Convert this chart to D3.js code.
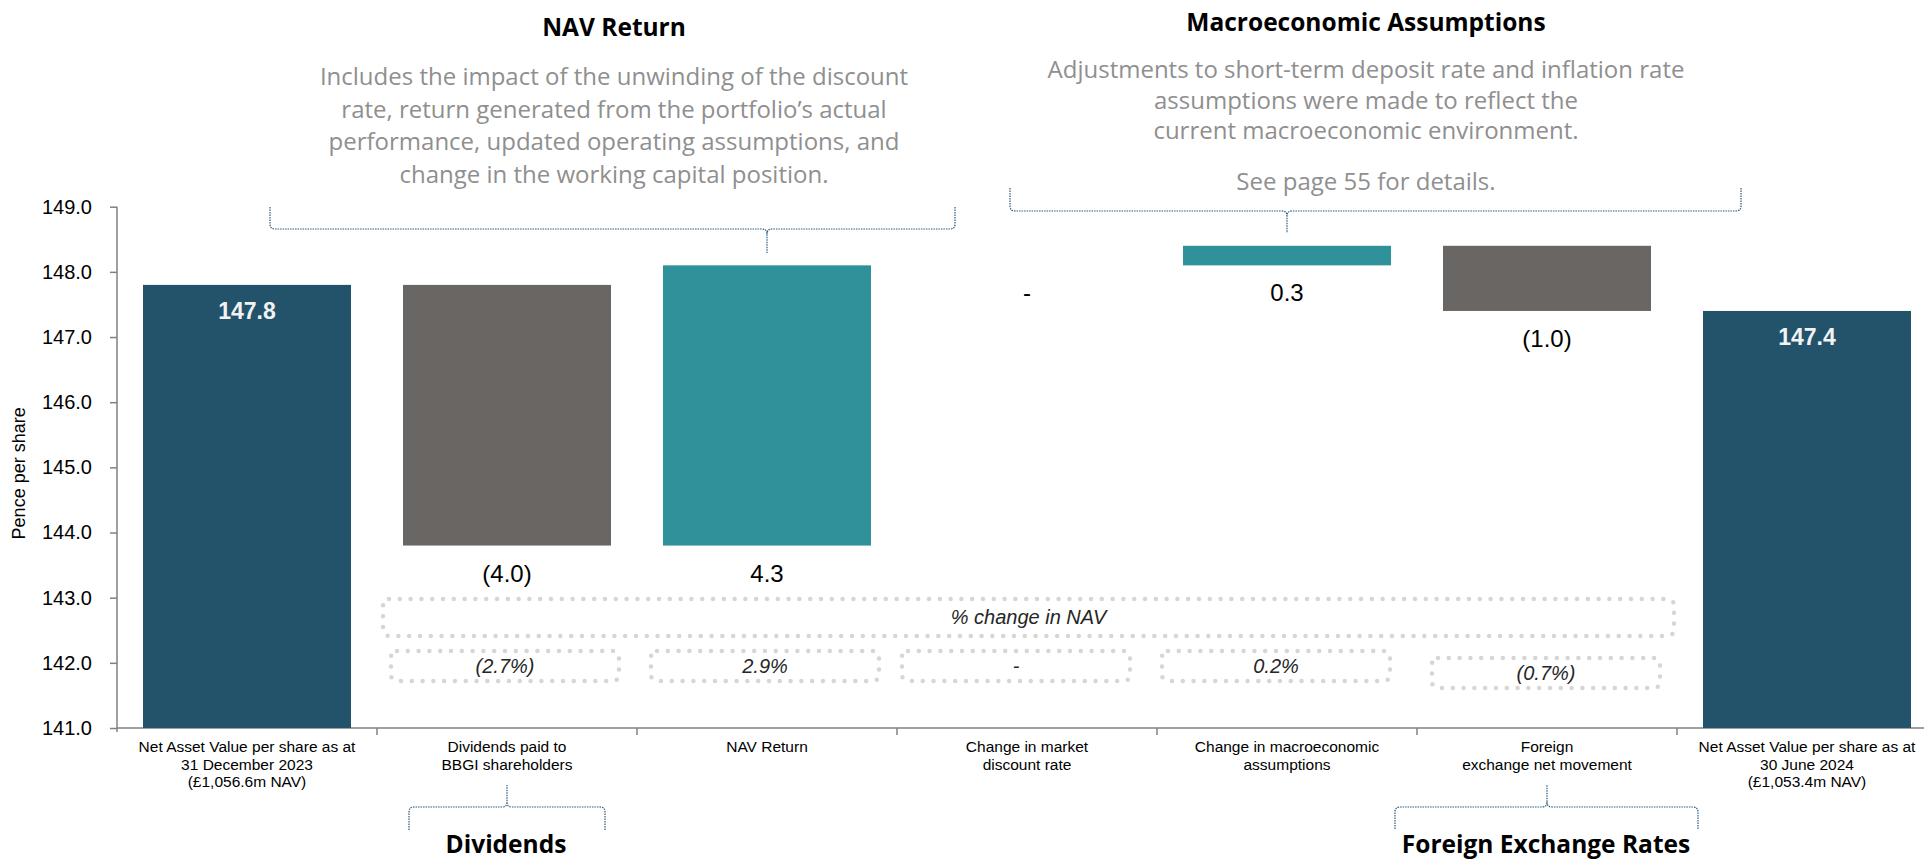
<!DOCTYPE html>
<html>
<head>
<meta charset="utf-8">
<script src="https://cdn.jsdelivr.net/npm/d3@7/dist/d3.min.js"></script>
<style>
  html, body { margin: 0; padding: 0; background: #fff; }
  svg { display: block; }
</style>
</head>
<body>
<svg id="chart" width="1924" height="860"></svg>
<script>
// ---- data ----
const categoryLines = [
  ["Net Asset Value per share as at", "31 December 2023", "(£1,056.6m NAV)"],
  ["Dividends paid to", "BBGI shareholders"],
  ["NAV Return"],
  ["Change in market", "discount rate"],
  ["Change in macroeconomic", "assumptions"],
  ["Foreign", "exchange net movement"],
  ["Net Asset Value per share as at", "30 June 2024", "(£1,053.4m NAV)"]
];
const stepValues = [147.8, -4.0, 4.3, 0.0, 0.3, -1.0, 147.4];
const stepKinds = ["total", "change", "change", "change", "change", "change", "total"];
const valueLabels = ["147.8", "(4.0)", "4.3", "-", "0.3", "(1.0)", "147.4"];
const pctChangeLabels = ["(2.7%)", "2.9%", "-", "0.2%", "(0.7%)"];
const pctHeader = "% change in NAV";
const yTickValues = [141, 142, 143, 144, 145, 146, 147, 148, 149];
const yTitle = "Pence per share";

const topNotes = [
  { title: "NAV Return", cat: 2,
    lines: ["Includes the impact of the unwinding of the discount",
            "rate, return generated from the portfolio\u2019s actual",
            "performance, updated operating assumptions, and",
            "change in the working capital position."] },
  { title: "Macroeconomic Assumptions", cat: 4,
    lines: ["Adjustments to short-term deposit rate and inflation rate",
            "assumptions were made to reflect the",
            "current macroeconomic environment."],
    footer: "See page 55 for details." }
];
const bottomNotes = [
  { title: "Dividends", cat: 1 },
  { title: "Foreign Exchange Rates", cat: 5 }
];

// ---- colours ----
const colTotal = "#23536B";
const colDown = "#6A6663";
const colUp = "#2F9199";
const colBracket = "#2B5A7E";
const colDots = "#D6D6D6";
const colNote = "#8F8F8F";

// ---- layout ----
const svg = d3.select("#chart");
const axisX = 117;
const x = d3.scaleBand()
  .domain(d3.range(categoryLines.length))
  .range([axisX, axisX + 1820])
  .paddingInner(0.2)
  .paddingOuter(0.1);
const y = d3.scaleLinear().domain([141, 149]).range([728, 206.7]);
const bw = x.bandwidth();
const cx = i => x(i) + bw / 2;

// waterfall extents
let running = 0;
const bars = stepValues.map((v, i) => {
  if (stepKinds[i] === "total") {
    running = v;
    return { i, lo: y.domain()[0], hi: v, kind: "total" };
  }
  const start = running;
  running = +(running + v).toFixed(4);
  return { i, lo: Math.min(start, running), hi: Math.max(start, running),
           kind: v < 0 ? "down" : "up", v };
});
const fill = k => k === "total" ? colTotal : (k === "down" ? colDown : colUp);

// ---- axes ----
const sans = "'Liberation Sans', Arial, sans-serif";
const yAxis = d3.axisLeft(y).tickValues(yTickValues).tickFormat(d3.format(".1f"))
  .tickSize(7).tickPadding(18);
const gy = svg.append("g").attr("transform", `translate(${axisX},0)`).call(yAxis);
gy.select(".domain").attr("d", `M0,${y(149)}V${y(141) + 4}`);
gy.selectAll("path, line").attr("stroke", "#808080").attr("stroke-width", 1.5);
gy.selectAll("text").attr("font-family", sans).attr("font-size", 20).attr("fill", "#000");

svg.append("text")
  .attr("transform", `translate(19,${(y(141) + y(149)) / 2 + 6}) rotate(-90)`)
  .attr("text-anchor", "middle").attr("dominant-baseline", "central")
  .attr("font-family", sans).attr("font-size", 18).attr("fill", "#000")
  .text(yTitle);

// x baseline with tick marks at the band boundaries
const gx = svg.append("g");
gx.append("line").attr("x1", axisX).attr("x2", 1924)
  .attr("y1", y(141)).attr("y2", y(141))
  .attr("stroke", "#808080").attr("stroke-width", 1.5);
gx.selectAll("line.tick").data(d3.range(1, categoryLines.length))
  .join("line").attr("class", "tick")
  .attr("x1", i => x(i) - x.step() * x.paddingInner() / 2)
  .attr("x2", i => x(i) - x.step() * x.paddingInner() / 2)
  .attr("y1", y(141)).attr("y2", y(141) + 7)
  .attr("stroke", "#808080").attr("stroke-width", 1.5);

const xl = svg.append("g").selectAll("text").data(categoryLines).join("text")
  .attr("text-anchor", "middle").attr("font-family", sans).attr("font-size", 15.5)
  .attr("fill", "#000");
xl.each(function (lines, i) {
  d3.select(this).selectAll("tspan").data(lines).join("tspan")
    .attr("x", cx(i)).attr("y", (d, k) => 752 + k * 17.5).text(d => d);
});

// ---- bars ----
svg.append("g").selectAll("rect").data(bars.filter(b => b.hi > b.lo)).join("rect")
  .attr("x", b => x(b.i)).attr("width", bw)
  .attr("y", b => y(b.hi)).attr("height", b => y(b.lo) - y(b.hi))
  .attr("fill", b => fill(b.kind));

// value labels
svg.append("g").selectAll("text").data(bars).join("text")
  .attr("x", b => cx(b.i))
  .attr("y", b => b.kind === "total" ? y(b.hi) + 34 : y(b.lo) + 36)
  .attr("text-anchor", "middle")
  .attr("font-family", sans)
  .attr("font-weight", b => b.kind === "total" ? "bold" : "normal")
  .attr("font-size", b => b.kind === "total" ? 23 : 24)
  .attr("fill", b => b.kind === "total" ? "#F2F2F2" : "#000")
  .text(b => valueLabels[b.i]);

// ---- % change boxes (dotted outlines) ----
function dottedBox(g, x0, y0, w, h) {
  g.append("rect").attr("x", x0).attr("y", y0).attr("width", w).attr("height", h)
    .attr("rx", 6).attr("fill", "none")
    .attr("stroke", colDots).attr("stroke-width", 4.5)
    .attr("stroke-linecap", "round").attr("stroke-dasharray", "0 10.8");
}
const boxes = svg.append("g");
dottedBox(boxes, 383, 599, 1291, 37);
boxes.append("text").attr("x", (383 + 1674) / 2).attr("y", 624)
  .attr("text-anchor", "middle").attr("font-family", sans).attr("font-style", "italic")
  .attr("font-size", 20).attr("fill", "#262626").text(pctHeader);

const smallShift = [-2, -2, -11, -11, -1];
const smallTop = [651, 651, 651, 651, 658];
pctChangeLabels.forEach((t, k) => {
  const c = cx(k + 1) + smallShift[k];
  dottedBox(boxes, c - 114, smallTop[k], 228, 30);
  boxes.append("text").attr("x", c).attr("y", smallTop[k] + 22)
    .attr("text-anchor", "middle").attr("font-family", sans).attr("font-style", "italic")
    .attr("font-size", 20).attr("fill", "#262626").text(t);
});

// ---- brace annotations ----
function brace(g, c, yEnd, yLine, yStem, left, right) {
  const r = 5;
  const s = Math.sign(yStem - yLine);
  const e = Math.sign(yLine - yEnd);
  const l = c - left, rr = c + right;
  const p = d3.path();
  p.moveTo(l, yEnd); p.lineTo(l, yLine - e * r);
  p.quadraticCurveTo(l, yLine, l + r, yLine); p.lineTo(c - r, yLine);
  p.quadraticCurveTo(c, yLine, c, yLine + s * r); p.lineTo(c, yStem);
  p.moveTo(rr, yEnd); p.lineTo(rr, yLine - e * r);
  p.quadraticCurveTo(rr, yLine, rr - r, yLine); p.lineTo(c + r, yLine);
  p.quadraticCurveTo(c, yLine, c, yLine + s * r);
  g.append("path").attr("d", p.toString()).attr("fill", "none")
    .attr("stroke", colBracket).attr("stroke-width", 1.2)
    .attr("stroke-dasharray", "1.5 1");
}
const notes = svg.append("g");
const noteFont = "'Open Sans', 'Noto Sans', sans-serif";
const titleSize = 24.5;
const noteSize = 24;

// NAV Return note
brace(notes, cx(2), 207, 229, 253, cx(2) - 270, 955 - cx(2));
notes.append("text").attr("x", 614).attr("y", 36).attr("text-anchor", "middle")
  .attr("font-family", noteFont).attr("font-weight", "bold").attr("font-size", titleSize)
  .attr("fill", "#000").text(topNotes[0].title);
notes.append("g").selectAll("text").data(topNotes[0].lines).join("text")
  .attr("x", 614).attr("y", (d, k) => 85 + k * 32.5).attr("text-anchor", "middle")
  .attr("font-family", noteFont).attr("font-size", noteSize).attr("fill", colNote).text(d => d);

// Macroeconomic note
brace(notes, cx(4), 188, 211, 233, cx(4) - 1010, 1741 - cx(4));
notes.append("text").attr("x", 1366).attr("y", 31).attr("text-anchor", "middle")
  .attr("font-family", noteFont).attr("font-weight", "bold").attr("font-size", titleSize)
  .attr("fill", "#000").text(topNotes[1].title);
notes.append("g").selectAll("text").data(topNotes[1].lines).join("text")
  .attr("x", 1366).attr("y", (d, k) => 78 + k * 30.5).attr("text-anchor", "middle")
  .attr("font-family", noteFont).attr("font-size", noteSize).attr("fill", colNote).text(d => d);
notes.append("text").attr("x", 1366).attr("y", 190).attr("text-anchor", "middle")
  .attr("font-family", noteFont).attr("font-size", noteSize).attr("fill", colNote)
  .text(topNotes[1].footer);

// bottom notes
brace(notes, cx(1), 830, 807, 785, cx(1) - 409, 605 - cx(1));
brace(notes, cx(5), 829, 807, 785, cx(5) - 1395, 1698 - cx(5));
bottomNotes.forEach(n => {
  notes.append("text").attr("x", cx(n.cat) - 1).attr("y", 853).attr("text-anchor", "middle")
    .attr("font-family", noteFont).attr("font-weight", "bold").attr("font-size", titleSize)
    .attr("fill", "#000").text(n.title);
});
</script>
</body>
</html>
